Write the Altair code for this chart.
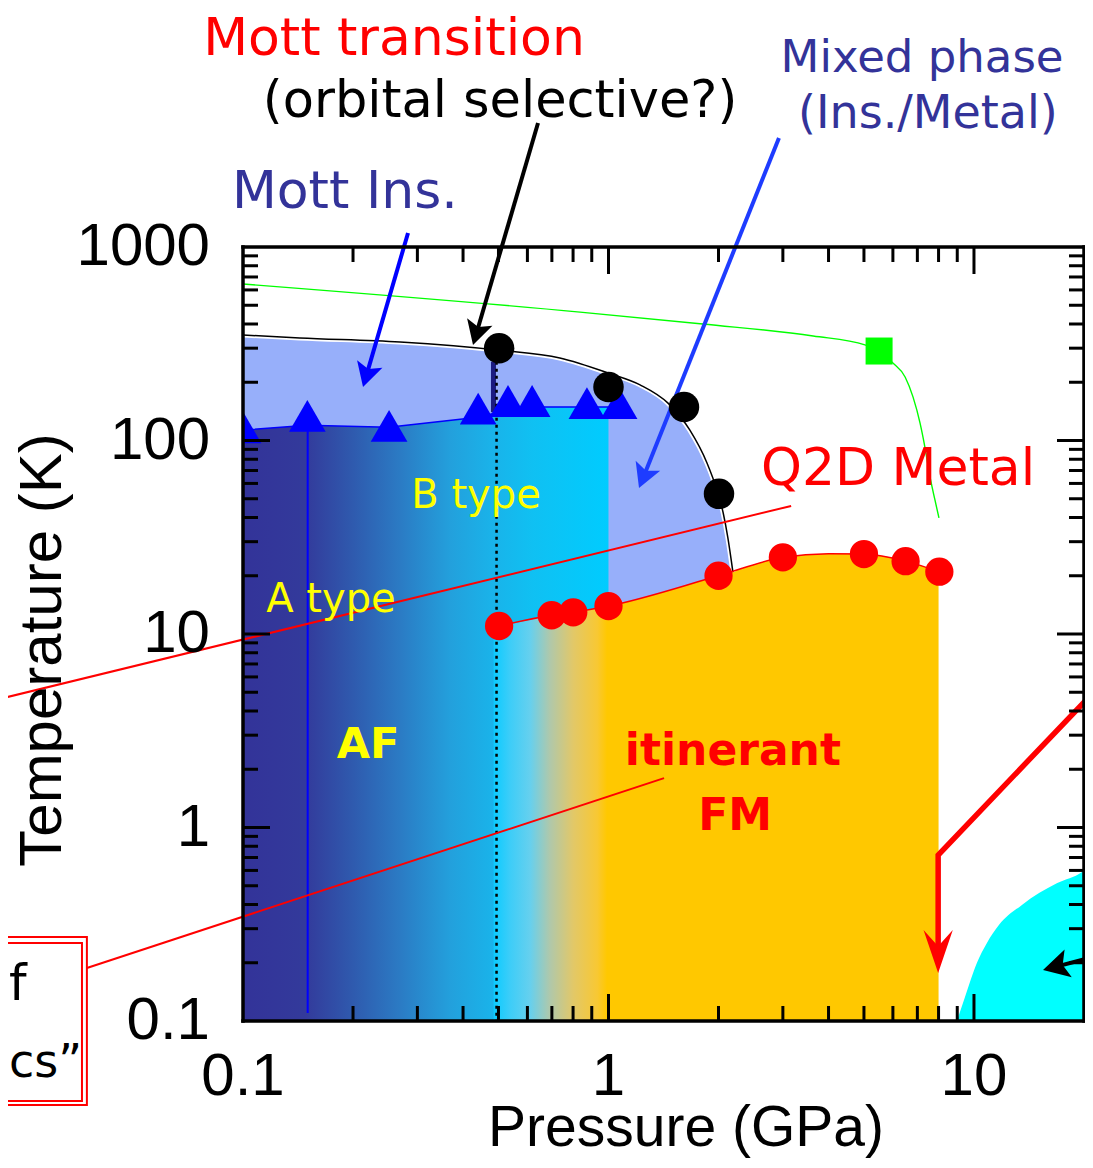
import math
import altair as alt
import pandas as pd

# ---------------- values (P in GPa, T in K) ----------------
# Mott insulator boundary (black curve)
mott_P = [0.1, 0.143, 0.269, 0.502, 0.736, 1.0, 1.22, 1.455, 1.67, 1.86, 1.98, 2.06, 2.12, 2.19]
mott_T = [351, 339, 323, 293, 267, 223, 194, 156, 113, 76.5, 55.5, 42.2, 31.7, 20.9]

# AF upper boundary (blue line under the triangles)
af_P = [0.1, 0.15, 0.25, 0.44, 0.5, 0.6, 1.0]
af_T = [113, 120, 117, 132, 140, 149, 149]

# itinerant FM / Q2D metal boundary (red line)
fm_P = [0.485, 0.502, 0.699, 0.801, 1.0, 2.0, 3.0, 4.0, 5.0, 6.5, 8.0]
fm_T = [10.9, 11.0, 12.5, 12.95, 13.95, 20.0, 24.9, 26.0, 25.9, 23.8, 21.0]

# high-pressure cyan phase
hp_P = [8.98, 9.45, 10.19, 10.85, 11.7, 13.5, 16.9, 19.75, 20.0]
hp_T = [0.1, 0.133, 0.2, 0.253, 0.313, 0.397, 0.516, 0.589, 0.6]

# green line
gr_P = [0.1, 0.836, 1.81, 3.63, 5.03, 5.5, 6.0, 6.48, 6.81, 7.12, 7.34, 7.58, 7.82, 8.02]
gr_T = [644, 461, 400, 347, 312, 290, 251.5, 213, 168, 123, 92.5, 64.8, 49.3, 39.8]

# markers
tri_P = [0.1, 0.15, 0.251, 0.44, 0.531, 0.618, 0.873, 1.069]
tri_T = [117, 134, 119, 146, 160, 160, 156, 156]
blk_P = [0.502, 1.0, 1.609, 2.006]
blk_T = [300, 189, 149, 53]
red_P = [0.502, 0.699, 0.801, 1.0, 2.0, 3.0, 5.0, 6.5, 8.04]
red_T = [11.0, 12.5, 12.95, 13.95, 20.0, 24.9, 25.9, 23.8, 21.0]
sq_P = [5.5]
sq_T = [290]

# vertical guide lines: P, T top, T bottom
vblue = [0.1503, 132, 0.11]
vnavy = [0.4845, 255, 140]
vdot = [0.494, 255, 0.1]

# red pointer lines
ptr1_P = [0.02261, 3.16]
ptr1_T = [4.72, 45.9]
ptr2_P = [0.0374, 1.419]
ptr2_T = [0.188, 1.80]

# double red box (lower left, cut by the picture edge)
box_outer = [0.0100, 0.0374, 0.0368, 0.2716]
box_inner = [0.0100, 0.03626, 0.03861, 0.2530]

# arrows: polyline ending at the tip
arrA_P = [0.2828, 0.2130]
arrA_T = [1181, 189]
arrB_P = [0.6415, 0.4259]
arrB_T = [4373, 311.5]
arrC_P = [2.927, 1.212]
arrC_T = [3659, 56.8]
arrD_P = [23.56, 7.98, 7.98]
arrD_T = [6.14, 0.721, 0.177]
arrE_P = [23.56, 15.45]
arrE_T = [0.2257, 0.1835]

# annotation texts and anchor points
ann_text = ["Mott transition", "(orbital selective?)", "Mott Ins.", "Mixed phase",
            "(Ins./Metal)", "Q2D Metal", "B type", "A type", "AF", "itinerant", "FM",
            "f", "cs\u201d"]
ann_P = [0.2589, 0.505, 0.190, 7.21, 7.48, 6.20, 0.434, 0.174, 0.2198, 2.19, 2.22, 0.0229, 0.0229]
ann_T = [9822, 4697, 1591, 8025, 4121, 58.9, 44.8, 13.0, 2.287, 2.104, 0.971, 0.1284, 0.05136]

# axes
x_ticks = [0.1, 1, 10]
y_ticks = [0.1, 1, 10, 100, 1000]
x_title = "Pressure (GPa)"
y_title = "Temperature (K)"
major_x = [1, 10]
minor_x = [m * d for d in (0.1, 1) for m in range(2, 10)]
major_y = [1, 10, 100]
minor_y = [m * d for d in (0.1, 1, 10, 100) for m in range(2, 10)]

# ---------------- chart ----------------
W, H = 841, 774
P_MIN, P_MAX = 0.1, 20
T_MIN, T_MAX = 0.1, 1000
XPD = W / math.log10(P_MAX / P_MIN)
YPD = H / math.log10(T_MAX / T_MIN)

xs = alt.Scale(type="log", domain=[P_MIN, P_MAX], nice=False)
ys = alt.Scale(type="log", domain=[T_MIN, T_MAX], nice=False)


def X(f="P"):
    return alt.X(f"{f}:Q", scale=xs, axis=None)


def Y(f="T"):
    return alt.Y(f"{f}:Q", scale=ys, axis=None)


def df_area(P, T):
    return pd.DataFrame({"P": P, "T": T, "lo": [T_MIN] * len(P)})


layers = []

# Mott insulator region (light blue)
layers.append(
    alt.Chart(df_area(mott_P, mott_T)).mark_area(color="#97AFFA", interpolate="monotone").encode(
        x=X(), y=Y(), y2=alt.Y2("lo"))
)

# AF region with horizontal gradient
af_grad = alt.LinearGradient(
    gradient="linear", x1=0, x2=1, y1=0, y2=0,
    stops=[alt.GradientStop(color="#333399", offset=0),
           alt.GradientStop(color="#333A9B", offset=0.17),
           alt.GradientStop(color="#2F5AAE", offset=0.30),
           alt.GradientStop(color="#2B7BC4", offset=0.43),
           alt.GradientStop(color="#23A0DC", offset=0.567),
           alt.GradientStop(color="#1AB2E9", offset=0.677),
           alt.GradientStop(color="#10C0F2", offset=0.79),
           alt.GradientStop(color="#00CCFF", offset=1)])
layers.append(
    alt.Chart(df_area(af_P, af_T)).mark_area(color=af_grad).encode(x=X(), y=Y(), y2=alt.Y2("lo"))
)

# itinerant FM region (cyan -> orange)
fm_grad = alt.LinearGradient(
    gradient="linear", x1=0, x2=1, y1=0, y2=0,
    stops=[alt.GradientStop(color="#0CCBFF", offset=0),
           alt.GradientStop(color="#3DCDF8", offset=0.037),
           alt.GradientStop(color="#66D0EE", offset=0.082),
           alt.GradientStop(color="#B0C8AA", offset=0.127),
           alt.GradientStop(color="#E2C868", offset=0.179),
           alt.GradientStop(color="#F8C833", offset=0.233),
           alt.GradientStop(color="#FFC800", offset=0.255),
           alt.GradientStop(color="#FFC800", offset=1)])
layers.append(
    alt.Chart(df_area(fm_P, fm_T)).mark_area(color=fm_grad, interpolate="monotone").encode(
        x=X(), y=Y(), y2=alt.Y2("lo"))
)

# high-pressure cyan region
layers.append(
    alt.Chart(df_area(hp_P, hp_T)).mark_area(color="#00FFFF", interpolate="monotone").encode(
        x=X(), y=Y(), y2=alt.Y2("lo"))
)

# curves
mott_df = pd.DataFrame({"P": mott_P, "T": mott_T})
layers.append(alt.Chart(mott_df).mark_line(color="white", strokeWidth=5, interpolate="monotone")
              .encode(x=X(), y=Y()))
layers.append(alt.Chart(mott_df).mark_line(color="black", strokeWidth=1.5, interpolate="monotone")
              .encode(x=X(), y=Y()))
layers.append(alt.Chart(pd.DataFrame({"P": gr_P, "T": gr_T}))
              .mark_line(color="#00FF00", strokeWidth=1.4, interpolate="monotone")
              .encode(x=X(), y=Y()))
layers.append(alt.Chart(pd.DataFrame({"P": fm_P[1:], "T": fm_T[1:]}))
              .mark_line(color="#FF0000", strokeWidth=1.5, interpolate="monotone")
              .encode(x=X(), y=Y()))
layers.append(alt.Chart(pd.DataFrame({"P": af_P, "T": af_T}))
              .mark_line(color="#0000FF", strokeWidth=1.5)
              .encode(x=X(), y=Y()))


# vertical guides
def vrule(v, color, width, dash=None):
    df = pd.DataFrame({"P": [v[0]], "T": [v[1]], "T2": [v[2]]})
    kw = dict(color=color, strokeWidth=width)
    if dash:
        kw["strokeDash"] = dash
    return alt.Chart(df).mark_rule(**kw).encode(x=X(), y=Y(), y2=alt.Y2("T2"))


layers.append(vrule(vblue, "#0000FF", 2))
layers.append(vrule(vnavy, "#1B1B80", 5))
layers.append(vrule(vdot, "black", 2.5, [3, 4]))

# red pointer lines and box
for Ps, Ts in ((ptr1_P, ptr1_T), (ptr2_P, ptr2_T)):
    layers.append(alt.Chart(pd.DataFrame({"P": Ps, "T": Ts}))
                  .mark_line(color="#FF0000", strokeWidth=2).encode(x=X(), y=Y()))
for b in (box_outer, box_inner):
    layers.append(alt.Chart(pd.DataFrame({"P": [b[0]], "P2": [b[1]], "T": [b[2]], "T2": [b[3]]}))
                  .mark_rect(fill="transparent", stroke="#FF0000", strokeWidth=2)
                  .encode(x=X(), x2=alt.X2("P2"), y=Y(), y2=alt.Y2("T2")))

# arrows
HEAD = "M0,0L-0.55,-1L0,-0.78L0.55,-1Z"
BARB = "M0,0L-0.34,-1L0,-0.62L0.34,-1Z"


def arrow(Ps, Ts, color, width, head_len, path, back=0.6):
    p0, t0, p1, t1 = Ps[-2], Ts[-2], Ps[-1], Ts[-1]
    lp0, lt0, lp1, lt1 = map(math.log10, (p0, t0, p1, t1))
    dx = (lp1 - lp0) * XPD
    dy = -(lt1 - lt0) * YPD
    L = math.hypot(dx, dy)
    f = 1 - back * head_len / L
    pe = 10 ** (lp0 + f * (lp1 - lp0))
    te = 10 ** (lt0 + f * (lt1 - lt0))
    ang = math.degrees(math.atan2(-dx, dy)) % 360
    shaft = pd.DataFrame({"P": list(Ps[:-1]) + [pe], "T": list(Ts[:-1]) + [te],
                          "o": list(range(len(Ps)))})
    line = alt.Chart(shaft).mark_line(color=color, strokeWidth=width).encode(
        x=X(), y=Y(), order=alt.Order("o:Q"))
    head = alt.Chart(pd.DataFrame({"P": [p1], "T": [t1]})).mark_point(
        shape=path, size=(2 * head_len) ** 2, angle=ang, filled=True, color=color,
        opacity=1, strokeWidth=0).encode(x=X(), y=Y())
    return [line, head]


layers += arrow(arrA_P, arrA_T, "#0000FF", 4, 24, HEAD)
layers += arrow(arrB_P, arrB_T, "black", 4, 24, HEAD)
layers += arrow(arrC_P, arrC_T, "#1E3CFF", 4, 24, HEAD)
layers += arrow(arrD_P, arrD_T, "#FF0000", 5.5, 43, BARB, back=0.5)
layers += arrow(arrE_P, arrE_T, "black", 4, 26, HEAD)

# markers
layers.append(alt.Chart(pd.DataFrame({"P": tri_P, "T": tri_T}))
              .mark_point(shape="triangle-up", filled=True, size=1350, color="#0000FF",
                          opacity=1, strokeWidth=0, clip=True)
              .encode(x=X(), y=Y()))
layers.append(alt.Chart(pd.DataFrame({"P": blk_P, "T": blk_T}))
              .mark_circle(size=930, color="black", opacity=1).encode(x=X(), y=Y()))
layers.append(alt.Chart(pd.DataFrame({"P": red_P, "T": red_T}))
              .mark_circle(size=800, color="#FF0000", opacity=1).encode(x=X(), y=Y()))
layers.append(alt.Chart(pd.DataFrame({"P": sq_P, "T": sq_T}))
              .mark_square(size=729, color="#00FF00", opacity=1).encode(x=X(), y=Y()))

# annotation texts
styles = {
    "Mott transition": dict(color="#FF0000", fontSize=52),
    "(orbital selective?)": dict(color="black", fontSize=51),
    "Mott Ins.": dict(color="#333399", fontSize=52),
    "Mixed phase": dict(color="#333399", fontSize=45),
    "(Ins./Metal)": dict(color="#333399", fontSize=46),
    "Q2D Metal": dict(color="#FF0000", fontSize=52),
    "B type": dict(color="#FFFF00", fontSize=40),
    "A type": dict(color="#FFFF00", fontSize=40),
    "AF": dict(color="#FFFF00", fontSize=43, fontWeight="bold"),
    "itinerant": dict(color="#FF0000", fontSize=44, fontWeight="bold"),
    "FM": dict(color="#FF0000", fontSize=44, fontWeight="bold"),
    "f": dict(color="black", fontSize=50, align="left"),
    "cs\u201d": dict(color="black", fontSize=46, align="left"),
}
for txt, p, t in zip(ann_text, ann_P, ann_T):
    st = dict(font="DejaVu Sans", align="center", baseline="alphabetic", fontWeight="normal")
    st.update(styles[txt])
    layers.append(alt.Chart(pd.DataFrame({"P": [p], "T": [t], "label": [txt]}))
                  .mark_text(**st).encode(x=X(), y=Y(), text="label:N"))

# tick labels and axis titles
layers.append(alt.Chart(pd.DataFrame({"P": x_ticks, "lab": [f"{v:g}" for v in x_ticks]}))
              .mark_text(font="Liberation Sans", fontSize=60, color="black", align="center",
                         baseline="alphabetic")
              .encode(x=X(), y=alt.value(H + 74), text="lab:N"))
layers.append(alt.Chart(pd.DataFrame({"T": y_ticks, "lab": [f"{v:g}" for v in y_ticks]}))
              .mark_text(font="Liberation Sans", fontSize=60, color="black", align="right",
                         baseline="middle")
              .encode(y=Y(), x=alt.value(-33), text="lab:N"))
layers.append(alt.Chart(pd.DataFrame({"lab": [x_title]}))
              .mark_text(font="Liberation Sans", fontSize=57, color="black", align="center",
                         baseline="alphabetic")
              .encode(x=alt.value(443), y=alt.value(H + 125), text="lab:N"))
layers.append(alt.Chart(pd.DataFrame({"lab": [y_title]}))
              .mark_text(font="Liberation Sans", fontSize=60, color="black", align="center",
                         baseline="alphabetic", angle=270)
              .encode(x=alt.value(-182), y=alt.value(403), text="lab:N"))

# inward ticks on all four sides
MAJ, MIN = 27, 15
for vals, L in ((major_x, MAJ), (minor_x, MIN)):
    d = pd.DataFrame({"P": vals})
    layers.append(alt.Chart(d).mark_rule(color="black", strokeWidth=3)
                  .encode(x=X(), y=alt.value(0), y2=alt.value(L)))
    layers.append(alt.Chart(d).mark_rule(color="black", strokeWidth=3)
                  .encode(x=X(), y=alt.value(H), y2=alt.value(H - L)))
for vals, L in ((major_y, MAJ), (minor_y, MIN)):
    d = pd.DataFrame({"T": vals})
    layers.append(alt.Chart(d).mark_rule(color="black", strokeWidth=3)
                  .encode(y=Y(), x=alt.value(0), x2=alt.value(L)))
    layers.append(alt.Chart(d).mark_rule(color="black", strokeWidth=3)
                  .encode(y=Y(), x=alt.value(W), x2=alt.value(W - L)))

# frame
one = pd.DataFrame({"i": [0]})
fr = dict(color="black", strokeWidth=3.5, strokeCap="square")
layers.append(alt.Chart(one).mark_rule(**fr).encode(x=alt.value(0), x2=alt.value(W), y=alt.value(0)))
layers.append(alt.Chart(one).mark_rule(**fr).encode(x=alt.value(0), x2=alt.value(W), y=alt.value(H)))
layers.append(alt.Chart(one).mark_rule(**fr).encode(y=alt.value(0), y2=alt.value(H), x=alt.value(0)))
layers.append(alt.Chart(one).mark_rule(**fr).encode(y=alt.value(0), y2=alt.value(H), x=alt.value(W)))

chart = alt.layer(*layers).properties(
    width=W, height=H,
    autosize=alt.AutoSizeParams(type="none"),
    padding={"left": 235, "top": 239, "right": 1, "bottom": 137},
    background="white",
).configure_view(stroke=None)

chart.save("out.html", embed_options={"renderer": "svg", "actions": False})
